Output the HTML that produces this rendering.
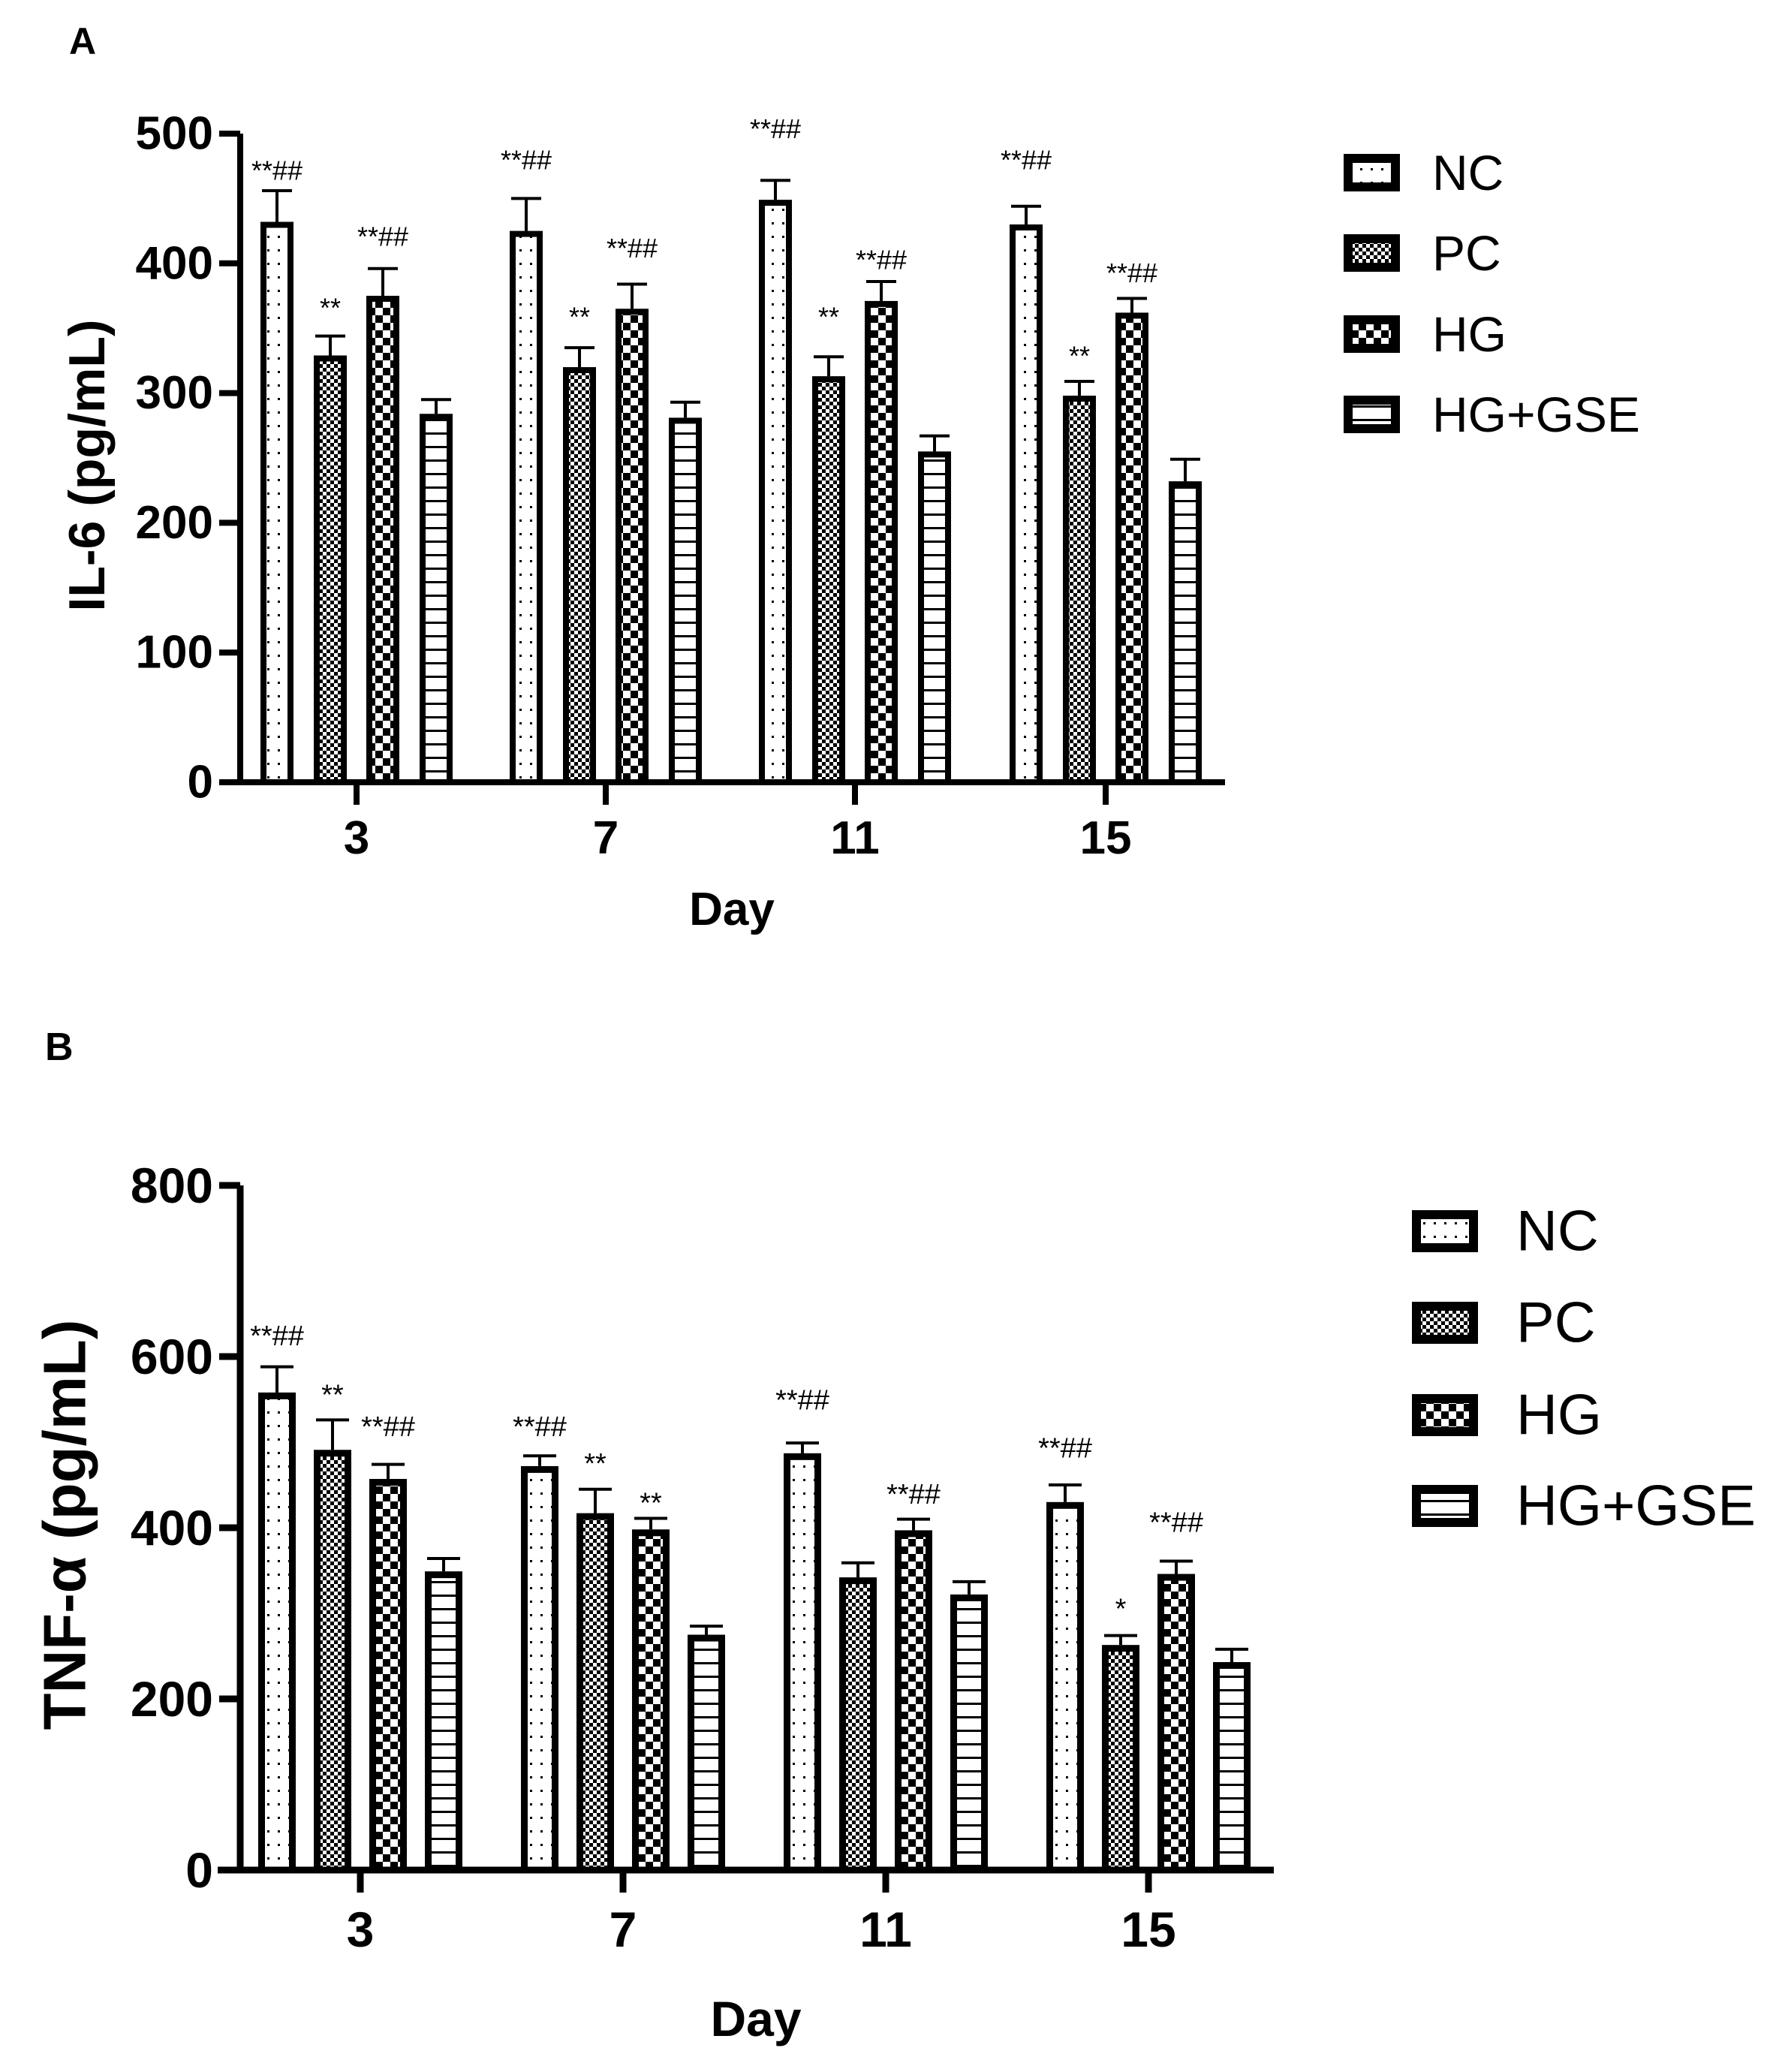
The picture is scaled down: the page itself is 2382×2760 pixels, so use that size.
<!DOCTYPE html>
<html><head><meta charset="utf-8"><style>
html,body{margin:0;padding:0;background:#fff}
svg{display:block}
text{font-family:"Liberation Sans",Arial,sans-serif}
</style></head><body>
<svg id="fig" width="2382" height="2760" viewBox="0 0 2382 2760" xmlns="http://www.w3.org/2000/svg">
<defs>
<pattern id="pNC" patternUnits="userSpaceOnUse" width="14" height="18"><rect width="14" height="18" fill="#fff"/><rect x="6" y="8" width="3" height="3" fill="#000"/></pattern>
<pattern id="pPC" patternUnits="userSpaceOnUse" width="10" height="10"><rect width="10" height="10" fill="#fff"/><rect width="5" height="5" fill="#000"/><rect x="5" y="5" width="5" height="5" fill="#000"/></pattern>
<pattern id="pHG" patternUnits="userSpaceOnUse" width="20" height="20"><rect width="20" height="20" fill="#fff"/><rect width="10" height="10" fill="#000"/><rect x="10" y="10" width="10" height="10" fill="#000"/></pattern>
<pattern id="pGSE" patternUnits="userSpaceOnUse" width="20" height="18"><rect width="20" height="18" fill="#fff"/><rect y="0" width="20" height="3" fill="#000"/></pattern>
</defs>
<text x="92" y="72" font-size="50" font-weight="bold">A</text>
<text x="60" y="1412" font-size="52" font-weight="bold">B</text>
<g id="chartA"></g>
<g id="chartB"></g>
</svg>
<script>
const groups = ["NC","PC","HG","HG+GSE"];
const days = ["3","7","11","15"];
const fills = ["url(#pNC)","url(#pPC)","url(#pHG)","url(#pGSE)"];
// IL-6 values [day][group]
const il6Means = [[432,329,375,284],[425,320,365,281],[449,313,371,255],[430,298,362,232]];
const il6Errs  = [[24,15,21,11],[25,15,19,12],[15,15,15,12],[14,11,11,17]];
const il6Ticks = [0,100,200,300,400,500];
const il6Marks = [["**##","**","**##",""],["**##","**","**##",""],["**##","**","**##",""],["**##","**","**##",""]];
const il6MarkY = [[470,364,419,0],[478,357,410,0],[502,357,401,0],[478,327,391,0]];
// TNF-a values
const tnfMeans = [[558,491,457,349],[472,417,398,275],[487,342,397,322],[430,263,346,243]];
const tnfErrs  = [[30,35,17,15],[12,28,13,10],[12,17,13,15],[20,11,15,15]];
const tnfTicks = [0,200,400,600,800];
const tnfMarks = [["**##","**","**##",""],["**##","**","**",""],["**##","","**##",""],["**##","*","**##",""]];
const tnfMarkY = [[622,553,516,0],[516,473,427,0],[547,0,437,0],[491,303,404,0]];

const NS="http://www.w3.org/2000/svg";
function mk(parent,tag,attrs,txt){const e=document.createElementNS(NS,tag);for(const k in attrs)e.setAttribute(k,attrs[k]);if(txt!==undefined)e.textContent=txt;parent.appendChild(e);return e;}

function draw(g,cfg,means,errs,ticks,marks,markY,prefix){
  const y=v=>cfg.y0-(v-ticks[0])/(ticks[ticks.length-1]-ticks[0])*(cfg.y0-cfg.yTop);
  const xc=(d,s)=>cfg.dayX[d]+cfg.offs[s];
  means.forEach((row,d)=>row.forEach((v,s)=>{
    const cx=xc(d,s), top=y(v), hw=cfg.bw/2, sw=cfg.sw;
    const eb=mk(g,"path",{d:`M${cx} ${top} V${y(v+errs[d][s])} M${cx-cfg.cap} ${y(v+errs[d][s])} H${cx+cfg.cap}`,stroke:"#000","stroke-width":4,fill:"none"});
    
    
    const r=mk(g,"rect",{x:cx-hw+sw/2,y:top+sw/2,width:cfg.bw-sw,height:cfg.y0-top-sw/2,fill:fills[s],stroke:"#000","stroke-width":sw});
    
    
    if(marks[d][s]){
      const t=mk(g,"text",{x:cx,y:y(markY[d][s]),"font-size":cfg.mfs,"font-family":"Liberation Serif, serif","text-anchor":"middle","dominant-baseline":"middle"},marks[d][s]);
      
      
    }
  }));
  const ya=mk(g,"path",{d:`M${cfg.ax} ${cfg.yTop} V${cfg.y0}`,stroke:"#000","stroke-width":cfg.aw,fill:"none"});
  
  
  const xa=mk(g,"path",{d:`M${cfg.xStart} ${cfg.y0} H${cfg.xEnd}`,stroke:"#000","stroke-width":cfg.aw,fill:"none"});
  
  
  ticks.forEach(t=>{
    mk(g,"path",{d:`M${cfg.ax-28} ${y(t)} H${cfg.ax}`,stroke:"#000","stroke-width":cfg.aw});
    const tl=mk(g,"text",{x:cfg.ax-36,y:y(t),"font-size":cfg.tfs,"font-weight":"bold","text-anchor":"end","dominant-baseline":"central"},String(t));
    
    
  });
  days.forEach((dl,d)=>{
    mk(g,"path",{d:`M${cfg.dayX[d]} ${cfg.y0} V${cfg.y0+30}`,stroke:"#000","stroke-width":cfg.aw});
    const tl=mk(g,"text",{x:cfg.dayX[d],y:cfg.y0+cfg.xtOff,"font-size":cfg.tfs,"font-weight":"bold","text-anchor":"middle"},dl);
    
    
  });
  const xt=mk(g,"text",{x:cfg.xtX,y:cfg.xtY,"font-size":cfg.tfs,"font-weight":"bold","text-anchor":"middle"},"Day");
  
  
  const yt=mk(g,"text",{x:0,y:0,"font-size":cfg.ytfs,"font-weight":"bold","text-anchor":"middle","dominant-baseline":"central",transform:`translate(${cfg.ytX},${cfg.ytY}) rotate(-90)`},cfg.ytitle);
  
  
  groups.forEach((n,s)=>{
    const cy=cfg.legY[s];
    const lr=mk(g,"rect",{x:cfg.legX+6,y:cy-cfg.lh/2+6,width:cfg.lw-12,height:cfg.lh-12,fill:fills[s],stroke:"#000","stroke-width":12});
    
    
    const lt=mk(g,"text",{x:cfg.legTX,y:cy,"font-size":cfg.lfs,"dominant-baseline":"central"},n);
    
    
  });
}

draw(document.getElementById("chartA"),{
  y0:1042,yTop:178,ax:320,xStart:295,xEnd:1632,dayX:[475,807,1139,1473],offs:[-106,-35,35,106],
  bw:44,sw:8,cap:20,aw:8,tfs:62,mfs:36,xtOff:95,xtX:975,xtY:1232,ytitle:"IL-6 (pg/mL)",ytfs:68,ytX:116,ytY:620,
  legX:1790,legY:[230,337,445,552],lw:75,lh:50,legTX:1908,lfs:66
},il6Means,il6Errs,il6Ticks,il6Marks,il6MarkY,"il6");

draw(document.getElementById("chartB"),{
  y0:2491,yTop:1579,ax:320,xStart:290,xEnd:1697,dayX:[480,830,1180,1530],offs:[-111,-37,37,111],
  bw:50,sw:9,cap:22,aw:9,tfs:66,mfs:38,xtOff:102,xtX:1007,xtY:2712,ytitle:"TNF-α (pg/mL)",ytfs:80,ytX:86,ytY:2031,
  legX:1881,legY:[1640,1762,1885,2006],lw:88,lh:56,legTX:2020,lfs:76
},tnfMeans,tnfErrs,tnfTicks,tnfMarks,tnfMarkY,"tnf");
</script>
</body></html>
